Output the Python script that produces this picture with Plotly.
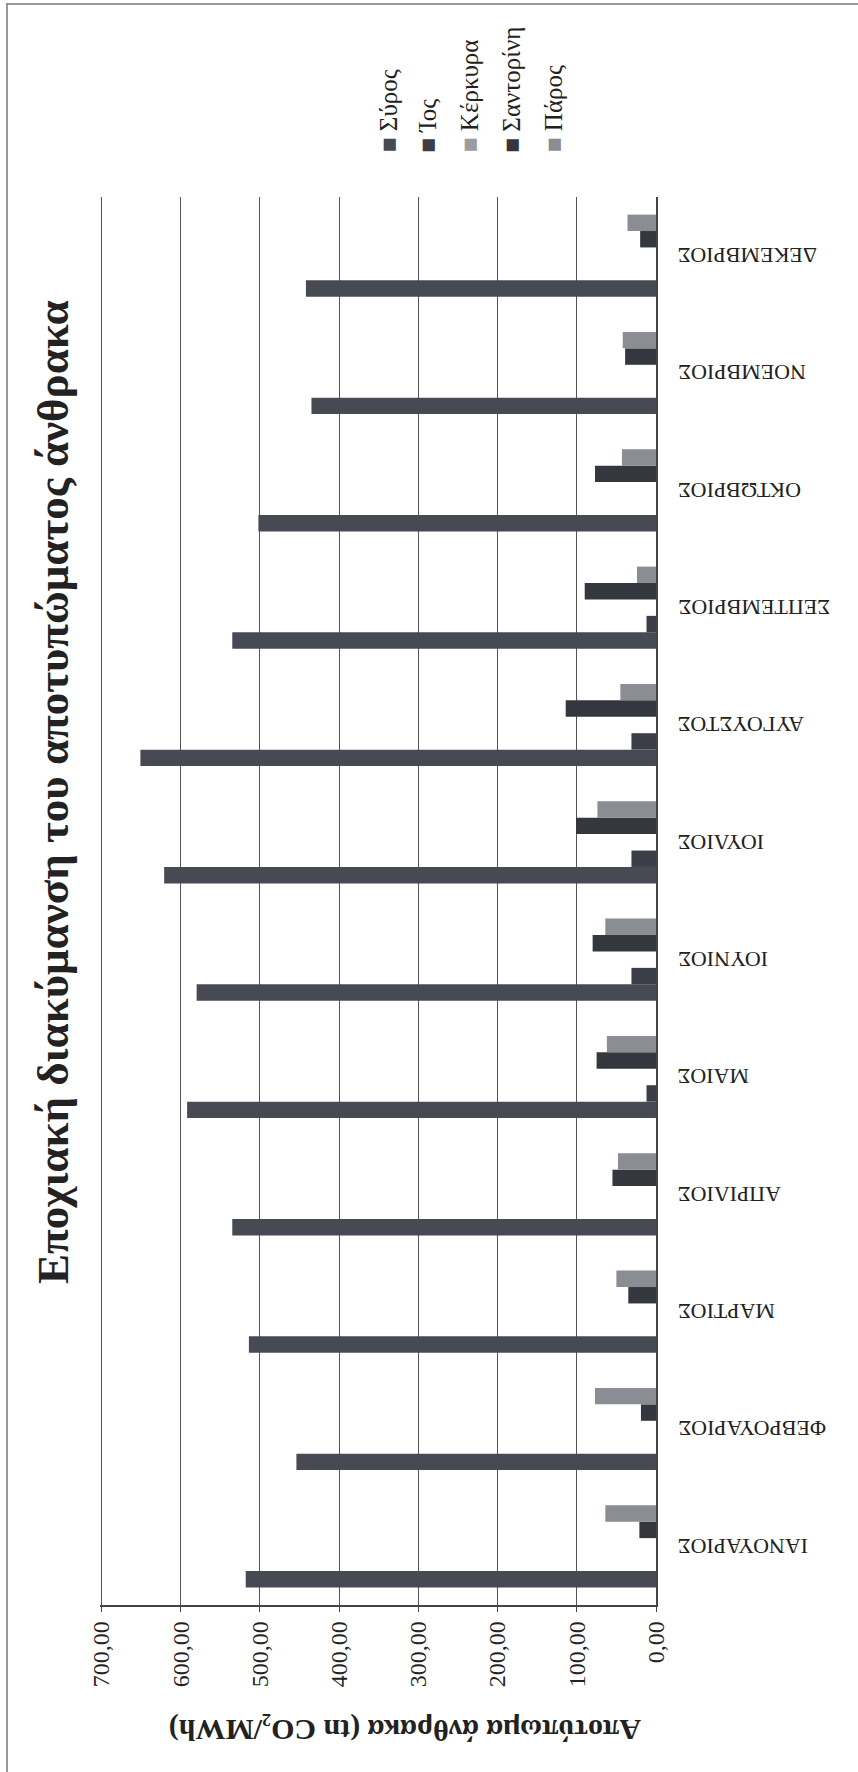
import plotly.graph_objects as go

months = ["ΙΑΝΟΥΑΡΙΟΣ", "ΦΕΒΡΟΥΑΡΙΟΣ", "ΜΑΡΤΙΟΣ", "ΑΠΡΙΛΙΟΣ", "ΜΑΙΟΣ", "ΙΟΥΝΙΟΣ",
          "ΙΟΥΛΙΟΣ", "ΑΥΓΟΥΣΤΟΣ", "ΣΕΠΤΕΜΒΡΙΟΣ", "ΟΚΤΩΒΡΙΟΣ", "ΝΟΕΜΒΡΙΟΣ", "ΔΕΚΕΜΒΡΙΟΣ"]
series_names = ["Σύρος", "Ίος", "Κέρκυρα", "Σαντορίνη", "Πάρος"]
syros = [518, 454, 514, 535, 592, 580, 621, 651, 535, 502, 435, 442]
ios = [0, 0, 0, 0, 12, 31, 31, 31, 12, 0, 0, 0]
kerkyra = [0, 0, 0, 0, 0, 0, 0, 0, 0, 0, 0, 0]
santorini = [21, 19, 35, 55, 75, 80, 101, 114, 90, 77, 39, 20]
paros = [64, 77, 50, 48, 62, 64, 74, 45, 24, 43, 42, 36]
value_ticks = [0, 100, 200, 300, 400, 500, 600, 700]

colors = ["#474a52", "#3b3e46", "#9a9ca2", "#35373e", "#8b8d95"]
values = [syros, ios, kerkyra, santorini, paros]

W, H = 858, 1772
L, R, T, B = 100, 656, 197, 1605


def xp(px):
    return (px - L) / (R - L)


def yp(py):
    return (B - py) / (B - T)


fig = go.Figure()
for name, vals, c in zip(series_names, values, colors):
    fig.add_trace(go.Bar(y=months, x=vals, name=name, orientation="h",
                         marker=dict(color=c, line=dict(width=0)), showlegend=False))

serif = "Liberation Serif"
fig.update_layout(
    width=W, height=H,
    margin=dict(l=L, r=W - R, t=T, b=H - B),
    paper_bgcolor="white", plot_bgcolor="white",
    barmode="group", bargap=0.3, bargroupgap=0,
    separators=",.",
    font=dict(family=serif, color="#222"),
    xaxis=dict(range=[702, 0], tickvals=value_ticks, tickformat=".2f",
               tickangle=-90, ticks="outside", ticklen=5, tickcolor="#444",
               showgrid=True, gridcolor="#555", gridwidth=1,
               showline=True, linecolor="#444", linewidth=1.5, zeroline=False,
               tickfont=dict(family=serif, size=24, color="#222")),
    yaxis=dict(type="category", categoryorder="array", categoryarray=months,
               side="right", showline=True, linecolor="#444", linewidth=1.5,
               showticklabels=False, ticks="", showgrid=False, zeroline=False),
)

ann = []
ann.append(dict(text="<b>Εποχιακή διακύμανση του αποτυπώματος άνθρακα</b>",
                x=xp(53), y=yp(792), xref="paper", yref="paper", textangle=-90,
                showarrow=False, xanchor="center", yanchor="middle",
                font=dict(family=serif, size=45, color="#222")))
ann.append(dict(text="<b>Αποτύπωμα άνθρακα (tn CO₂/MWh)</b>",
                x=xp(405), y=yp(1730), xref="paper", yref="paper", textangle=180,
                showarrow=False, xanchor="center", yanchor="middle",
                font=dict(family=serif, size=30, color="#222")))
for m in months:
    ann.append(dict(text=m, x=xp(676), y=m, xref="paper", yref="y", textangle=180,
                    showarrow=False, xanchor="left", yanchor="middle",
                    font=dict(family=serif, size=22, color="#222")))
leg_x = [388, 427, 469, 511, 553]
for name, c, lx in zip(series_names, colors, leg_x):
    ann.append(dict(text=f"<span style='color:{c}'>■</span> {name}",
                    x=xp(lx), y=yp(155), xref="paper", yref="paper", textangle=-90,
                    showarrow=False, xanchor="center", yanchor="bottom",
                    font=dict(family=serif, size=25, color="#222")))
fig.update_layout(annotations=ann)

fig.add_shape(type="line", xref="paper", yref="paper",
              x0=xp(7), x1=xp(7), y0=yp(3), y1=yp(1772),
              line=dict(color="#777", width=1.5), layer="below")
fig.add_shape(type="line", xref="paper", yref="paper",
              x0=xp(7), x1=xp(858), y0=yp(4), y1=yp(4),
              line=dict(color="#777", width=1.5), layer="below")

fig.write_html("out.html", config={"displayModeBar": False},
               post_script="document.body.style.margin='0';document.body.style.overflow='hidden';")
